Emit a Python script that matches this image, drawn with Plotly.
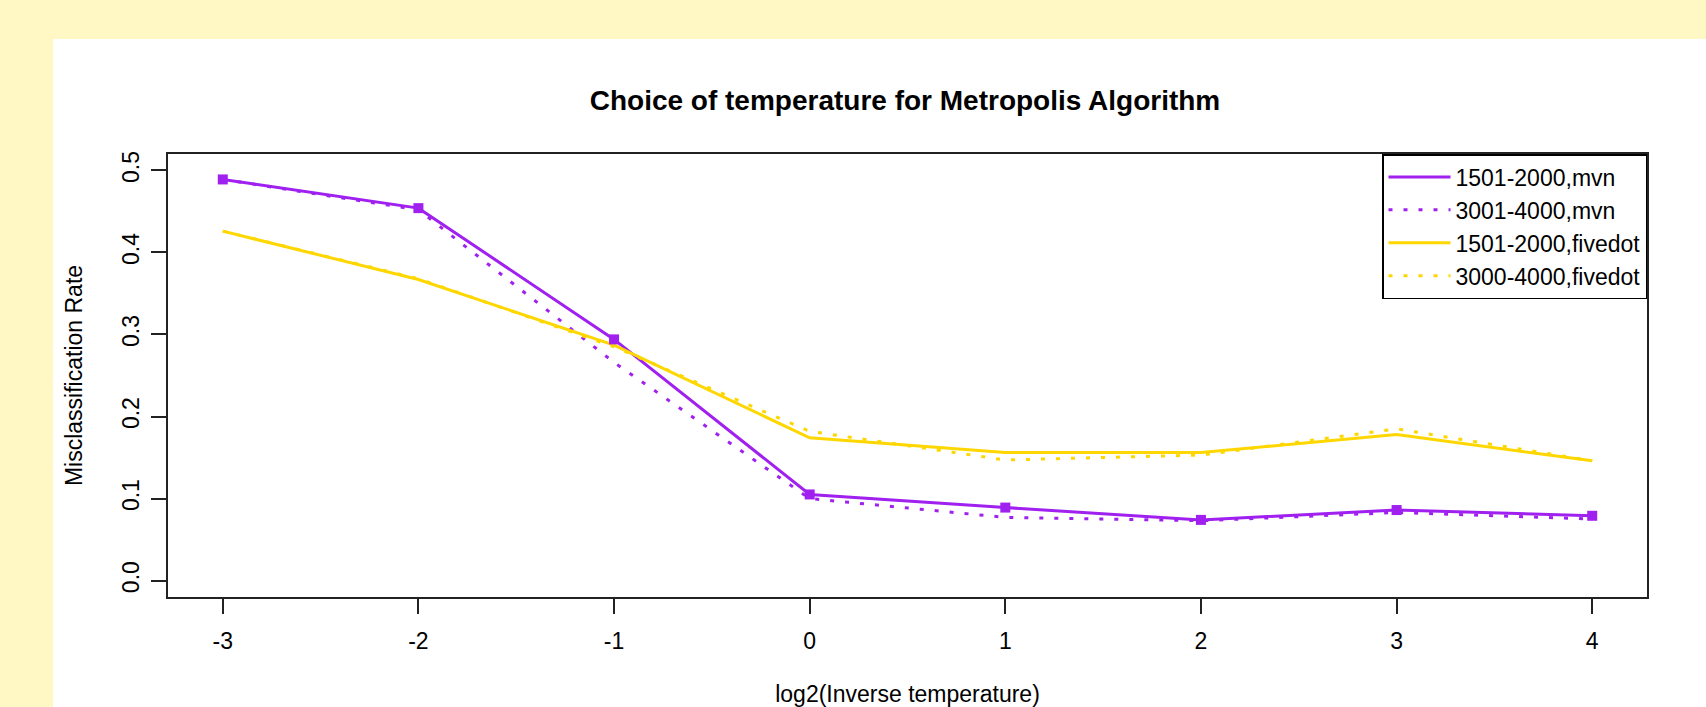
import plotly.graph_objects as go

# ---- data ----
log2_inv_temp = [-3, -2, -1, 0, 1, 2, 3, 4]
mvn_1501_2000 = [0.489, 0.454, 0.294, 0.105, 0.089, 0.074, 0.086, 0.079]
mvn_3001_4000 = [0.489, 0.452, 0.266, 0.100, 0.077, 0.073, 0.083, 0.075]
fivedot_1501_2000 = [0.426, 0.367, 0.287, 0.174, 0.156, 0.156, 0.178, 0.146]
fivedot_3000_4000 = [0.426, 0.368, 0.285, 0.182, 0.147, 0.153, 0.185, 0.146]

x_tick_vals = [-3, -2, -1, 0, 1, 2, 3, 4]
x_tick_text = ["-3", "-2", "-1", "0", "1", "2", "3", "4"]
y_tick_vals = [0.0, 0.1, 0.2, 0.3, 0.4, 0.5]
y_tick_text = ["0.0", "0.1", "0.2", "0.3", "0.4", "0.5"]

PURPLE = "#A020F0"
GOLD = "#FFD700"
FONT = "Liberation Sans, Arial, sans-serif"
DOT = "4px,11px"

fig = go.Figure()
fig.add_trace(go.Scatter(x=log2_inv_temp, y=mvn_1501_2000, name="1501-2000,mvn",
                         mode="lines", line=dict(color=PURPLE, width=3)))
fig.add_trace(go.Scatter(x=log2_inv_temp, y=mvn_3001_4000, name="3001-4000,mvn",
                         mode="lines", line=dict(color=PURPLE, width=3, dash=DOT)))
fig.add_trace(go.Scatter(x=log2_inv_temp, y=fivedot_1501_2000, name="1501-2000,fivedot",
                         mode="lines", line=dict(color=GOLD, width=3)))
fig.add_trace(go.Scatter(x=log2_inv_temp, y=fivedot_3000_4000, name="3000-4000,fivedot",
                         mode="lines", line=dict(color=GOLD, width=3, dash=DOT)))
# square point markers on the 1501-2000,mvn series (not shown in legend)
fig.add_trace(go.Scatter(x=log2_inv_temp, y=mvn_1501_2000, mode="markers",
                         marker=dict(symbol="square", size=10, color=PURPLE),
                         showlegend=False, hoverinfo="skip"))

axis_common = dict(showgrid=False, zeroline=False, showline=True, linecolor="#222",
                   linewidth=2, mirror=True, ticks="outside", ticklen=15,
                   tickwidth=1.5, tickcolor="#222", automargin=False,
                   tickfont=dict(family=FONT, size=23, color="black"))

fig.update_layout(
    width=1706, height=707,
    margin=dict(l=168, r=59, t=154, b=110),
    paper_bgcolor="#FFF8C4",
    plot_bgcolor="white",
    title=dict(text="Choice of temperature for Metropolis Algorithm",
               x=0.4983, xref="paper", xanchor="center",
               y=1 - 100 / 707, yref="container", yanchor="middle",
               font=dict(family=FONT, size=28, color="black", weight=700)),
    xaxis=dict(range=[-3.28, 4.28], tickvals=x_tick_vals, ticktext=x_tick_text,
               ticklabelstandoff=7,
               title=dict(text="log2(Inverse temperature)", standoff=47,
                          font=dict(family=FONT, size=23, color="black")),
               **axis_common),
    yaxis=dict(range=[-0.02, 0.52], tickvals=y_tick_vals, ticktext=y_tick_text,
               tickangle=-90, ticklabelstandoff=3,
               title=dict(text="Misclassification Rate", standoff=29,
                          font=dict(family=FONT, size=23, color="black")),
               **axis_common),
    legend=dict(x=1, y=1, xanchor="right", yanchor="top",
                bgcolor="white", bordercolor="black", borderwidth=1.5,
                font=dict(family=FONT, size=23, color="black"),
                itemwidth=62),
    showlegend=True,
    shapes=[dict(type="rect", xref="paper", yref="paper",
                 x0=-0.0777, x1=1.2, y0=-0.5, y1=1.2596,
                 fillcolor="white", line=dict(width=0), layer="below")],
)

fig.write_html("out.html",
               config={"displayModeBar": False},
               post_script="document.body.style.margin='0px';"
                           "document.body.style.overflow='hidden';")
